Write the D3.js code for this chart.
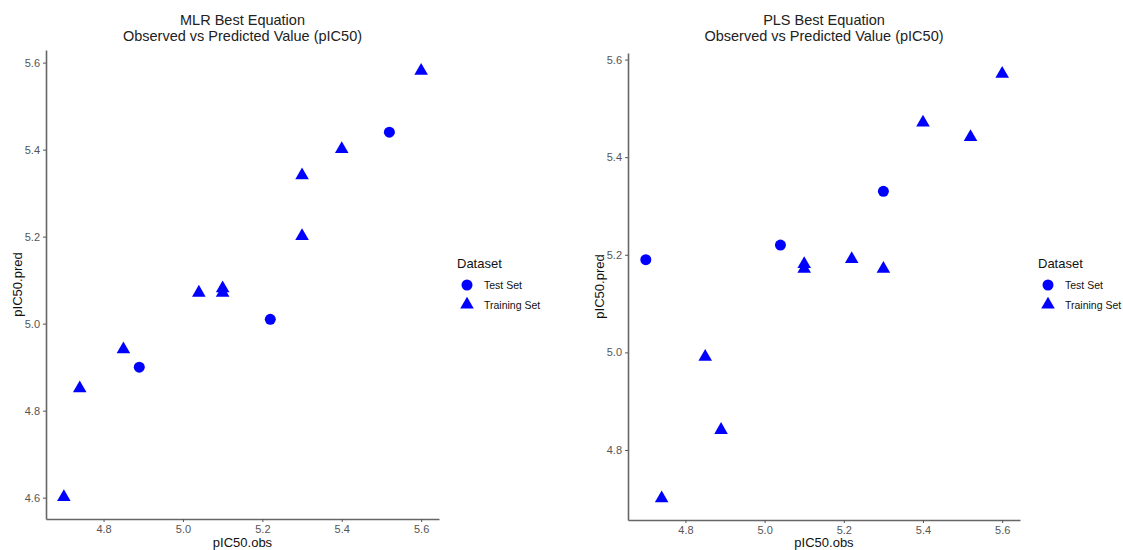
<!DOCTYPE html>
<html>
<head>
<meta charset="utf-8">
<script src="https://cdn.jsdelivr.net/npm/d3@7"></script>
<style>
  body { margin: 0; background: #fff; }
  text { font-family: "Liberation Sans", Arial, sans-serif; }
</style>
</head>
<body>
<svg id="chart" width="1123" height="550"></svg>
<script>
"use strict";

// MLR panel data
const mlr_obs  = [4.70, 4.74, 4.85, 4.89, 5.04, 5.10, 5.10, 5.22, 5.30, 5.30, 5.40, 5.52, 5.60];
const mlr_pred = [4.60, 4.85, 4.94, 4.90, 5.07, 5.08, 5.07, 5.01, 5.34, 5.20, 5.40, 5.44, 5.58];
const mlr_set  = ['Training Set', 'Training Set', 'Training Set', 'Test Set', 'Training Set', 'Training Set',
  'Training Set', 'Test Set', 'Training Set', 'Training Set', 'Training Set', 'Test Set', 'Training Set'];

// PLS panel data
const pls_obs  = [4.70, 4.74, 4.85, 4.89, 5.04, 5.10, 5.10, 5.22, 5.30, 5.30, 5.40, 5.52, 5.60];
const pls_pred = [5.19, 4.70, 4.99, 4.84, 5.22, 5.18, 5.17, 5.19, 5.33, 5.17, 5.47, 5.44, 5.57];
const pls_set  = ['Test Set', 'Training Set', 'Training Set', 'Training Set', 'Test Set', 'Training Set',
  'Training Set', 'Training Set', 'Test Set', 'Training Set', 'Training Set', 'Training Set', 'Training Set'];

const x_ticks = [4.8, 5.0, 5.2, 5.4, 5.6];
const y_ticks = [4.6, 4.8, 5.0, 5.2, 5.4, 5.6];
const legend_items = ['Test Set', 'Training Set'];

const svg = d3.select('#chart');

// ggplot-like 5% expansion of the data range
const expand = (vals) => {
  const [lo, hi] = d3.extent(vals);
  const pad = (hi - lo) * 0.05;
  return [lo - pad, hi + pad];
};

const tri = d3.symbol().type(d3.symbolTriangle).size(80);

const draw_mark = (sel, set) => {
  if (set === 'Test Set') {
    sel.append('circle').attr('r', 5.5).attr('fill', '#0000ff');
  } else {
    sel.append('path').attr('d', tri).attr('fill', '#0000ff').attr('transform', 'translate(0,-0.5)');
  }
};

const panel = (p) => {
  const x = d3.scaleLinear().domain(expand(p.obs)).range([p.left, p.right]);
  const y = d3.scaleLinear().domain(expand(p.pred)).range([p.bottom, p.top]);
  const g = svg.append('g');

  // title
  g.append('text')
    .attr('x', (p.left + p.right) / 2).attr('y', 25)
    .attr('text-anchor', 'middle').attr('font-size', 14.5).attr('fill', '#222')
    .text(p.title);
  g.append('text')
    .attr('x', (p.left + p.right) / 2).attr('y', 41)
    .attr('text-anchor', 'middle').attr('font-size', 14.5).attr('fill', '#222')
    .text('Observed vs Predicted Value (pIC50)');

  // axes
  const xa = g.append('g')
    .attr('transform', `translate(0,${p.bottom})`)
    .call(d3.axisBottom(x).tickValues(x_ticks).tickFormat(d3.format('.1f')).tickSize(3).tickSizeOuter(0));
  const ya = g.append('g')
    .attr('transform', `translate(${p.left},0)`)
    .call(d3.axisLeft(y).tickValues(y_ticks.filter(v => v >= y.domain()[0] && v <= y.domain()[1]))
      .tickFormat(d3.format('.1f')).tickSize(3).tickSizeOuter(0));
  [xa, ya].forEach(a => {
    a.select('.domain').attr('stroke', '#666').attr('stroke-width', 1.6);
    a.selectAll('.tick line').attr('stroke', '#555');
    a.selectAll('.tick text').attr('fill', '#555').attr('font-size', 11)
      .attr('font-family', '"Liberation Sans", Arial, sans-serif');
  });
  xa.selectAll('.tick text').attr('dy', '0.75em');

  // axis titles
  g.append('text')
    .attr('x', (p.left + p.right) / 2).attr('y', 547)
    .attr('text-anchor', 'middle').attr('font-size', 13).attr('fill', '#111')
    .text('pIC50.obs');
  g.append('text')
    .attr('transform', `translate(${p.left - 24},${(p.top + p.bottom) / 2}) rotate(-90)`)
    .attr('text-anchor', 'middle').attr('font-size', 13).attr('fill', '#111')
    .text('pIC50.pred');

  // points
  p.obs.forEach((v, i) => {
    const m = g.append('g').attr('transform', `translate(${x(v)},${y(p.pred[i])})`);
    draw_mark(m, p.set[i]);
  });

  // legend
  const lg = g.append('g').attr('transform', `translate(${p.legend_x},0)`);
  lg.append('text').attr('x', 0).attr('y', 268).attr('font-size', 13).attr('fill', '#111').text('Dataset');
  legend_items.forEach((s, i) => {
    const m = lg.append('g').attr('transform', `translate(10,${285 + i * 20})`);
    draw_mark(m, s);
    lg.append('text').attr('x', 27).attr('y', 289 + i * 20).attr('font-size', 10.5).attr('fill', '#111').text(s);
  });
};

panel({ title: 'MLR Best Equation', obs: mlr_obs, pred: mlr_pred, set: mlr_set,
  left: 46, right: 439, top: 50, bottom: 519, legend_x: 457 });
panel({ title: 'PLS Best Equation', obs: pls_obs, pred: pls_pred, set: pls_set,
  left: 628, right: 1020, top: 53, bottom: 520, legend_x: 1038 });
</script>
</body>
</html>
